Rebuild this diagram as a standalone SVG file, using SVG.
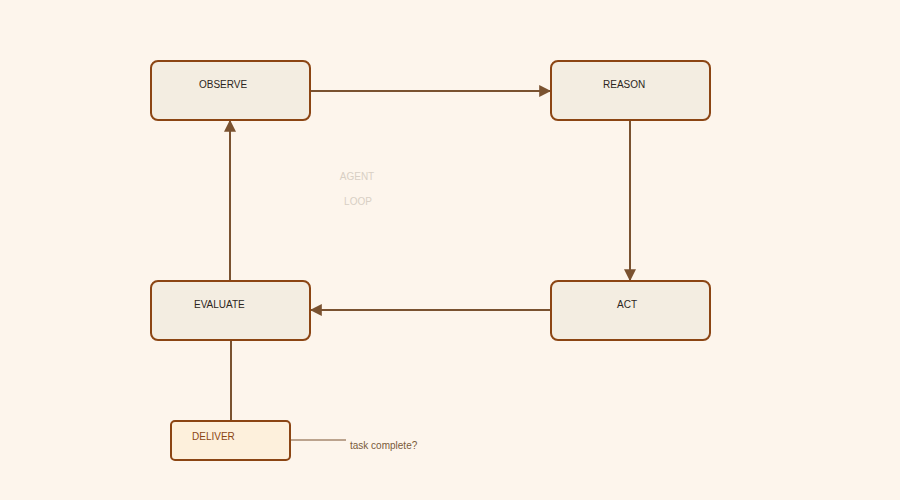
<svg xmlns="http://www.w3.org/2000/svg" width="900" height="500" viewBox="0 0 900 500">
<style>
.n{fill:#f3ede1;stroke:#8b4513;stroke-width:2}
.t{font-family:"Liberation Sans",Arial,sans-serif;font-size:10px;fill:#2b2520}
.c{stroke:#7a5230;stroke-width:2;fill:none}
</style>
<defs><marker id="a" viewBox="0 0 10 10" refX="9" refY="5" markerWidth="6" markerHeight="6" orient="auto"><path d="M0,0L10,5L0,10z" fill="#7a5230"/></marker></defs>
<rect width="900" height="500" fill="#fdf5ec"/>
<g id="connectors">
<line class="c" x1="310" y1="91" x2="550" y2="91" marker-end="url(#a)"/>
<line class="c" x1="630" y1="120" x2="630" y2="280" marker-end="url(#a)"/>
<line class="c" x1="550" y1="310" x2="311" y2="310" marker-end="url(#a)"/>
<line class="c" x1="230" y1="280" x2="230" y2="121" marker-end="url(#a)"/>
<line class="c" x1="231" y1="340" x2="231" y2="420"/>
<line x1="290" y1="440" x2="346" y2="440" stroke="#7a5230" stroke-width="1"/>
<text x="350" y="449" class="t" style="fill:#7a5a3a">task complete?</text>
</g>
<text x="357" y="180" class="t" text-anchor="middle" style="fill:#d8cfc4">AGENT</text>
<text x="358" y="205" class="t" text-anchor="middle" style="fill:#d8cfc4">LOOP</text>
<g id="observe"><rect class="n" x="151" y="61" width="159" height="59" rx="7"/><text class="t" x="199" y="88">OBSERVE</text></g>
<g id="reason"><rect class="n" x="551" y="61" width="159" height="59" rx="7"/><text class="t" x="603" y="88">REASON</text></g>
<g id="act"><rect class="n" x="551" y="281" width="159" height="59" rx="7"/><text class="t" x="617" y="308">ACT</text></g>
<g id="evaluate"><rect class="n" x="151" y="281" width="159" height="59" rx="7"/><text class="t" x="194" y="308">EVALUATE</text></g>
<g id="deliver"><rect x="171" y="421" width="119" height="39" rx="4" fill="#fdf0dc" stroke="#8b4513" stroke-width="2"/><text class="t" x="192" y="440" style="fill:#8b4513">DELIVER</text></g>
</svg>
